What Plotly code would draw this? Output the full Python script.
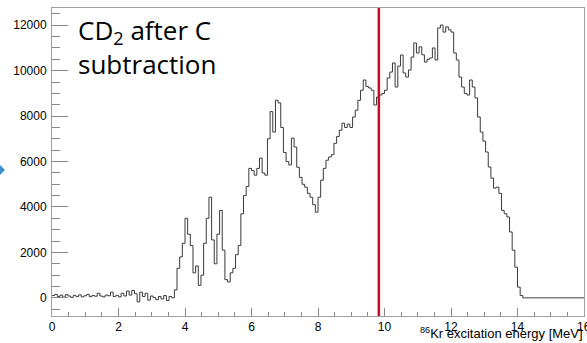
import plotly.graph_objects as go

# Histogram: 200 bins of 0.08 MeV from 0 to 16 MeV
bin_width = 0.08
counts = [
    100, 150, 60, 120, 30, 140, 80, 20, 110, 60,
    130, 40, 90, 150, 50, 100, 70, 200, 80, 40,
    120, 90, 250, 60, 110, 40, 200, 80, 300, 120,
    330, 180, -180, 250, 60, 200, -100, 80, 10, -80,
    60, -50, 100, -120, 60, 0, 350, 1300, 1800, 2400,
    3500, 2800, 2300, 1100, 1400, 550, 1000, 2400, 3500, 4430,
    2550, 1500, 2800, 3850, 2100, 800, 700, 1100, 1300, 1900,
    2300, 3700, 4500, 4900, 5700, 5600, 5400, 5700, 6150, 5500,
    5400, 7000, 8200, 7300, 8700, 8580, 7500, 6400, 6000, 5850,
    7030, 6640, 5750, 5300, 5000, 4870, 4600, 4430, 4100, 3770,
    4430, 5180, 5700, 6060, 6200, 6300, 6800, 7100, 7380, 7690,
    7500, 7650, 7500, 7960, 8260, 8700, 9140, 9590, 9300, 9240,
    9140, 8490, 8840, 8930, 9000, 9140, 9680, 9940, 10340, 9280,
    10200, 10690, 9900, 9720, 10030, 10600, 11220, 10780, 11050, 10700,
    10380, 10500, 10560, 11000, 10470, 11880, 12010, 11700, 11930, 11800,
    11700, 10780, 10470, 9720, 9280, 9000, 8930, 9590, 9280, 8800,
    7960, 7300, 6900, 6420, 5760, 5270, 4830, 4870, 4600, 3850,
    3700, 3560, 2900, 2100, 1350, 470, 100, 0, 0, 0,
    0, 0, 0, 0, 0, 0, 0, 0, 0, 0,
    0, 0, 0, 0, 0, 0, 0, 0, 0, 0,
]
x_range = [0, 16]
y_range = [-800, 12760]
x_tick_vals = [0, 2, 4, 6, 8, 10, 12, 14]
x_last_tick = 16
y_tick_vals = [0, 2000, 4000, 6000, 8000, 10000, 12000]
cut_energy = 9.83
label_text = "CD<sub>2</sub> after C<br>subtraction"
x_title = "<sup>86</sup>Kr excitation energy [MeV]"

edges = [i * bin_width for i in range(len(counts) + 1)]
ys = counts + [counts[-1]]

fig = go.Figure()
fig.add_trace(go.Scatter(
    x=edges, y=ys, mode="lines", line_shape="hv",
    line=dict(color="#3a3a3a", width=1), hoverinfo="skip", showlegend=False,
))

tick_font = dict(family="Liberation Sans, Arial", size=12, color="#000")
axis_common = dict(
    showline=True, linecolor="#a0a0a0", linewidth=1, mirror=True,
    showgrid=False, zeroline=False, ticks="inside", tickcolor="#8a8a8a",
    tickfont=tick_font, tickformat="d",
)
fig.update_xaxes(range=x_range, tickvals=x_tick_vals, ticklen=8, tickwidth=1,
                 minor=dict(dtick=0.5, ticks="inside", ticklen=4, tickcolor="#8a8a8a"),
                 **axis_common)
fig.update_yaxes(range=y_range, tickvals=y_tick_vals, ticklen=16, tickwidth=1,
                 ticklabelstandoff=2,
                 minor=dict(dtick=500, ticks="inside", ticklen=8, tickcolor="#8a8a8a"),
                 **axis_common)

# last x tick label (cut by the page edge in the original)
fig.add_annotation(text=str(x_last_tick), xref="x", yref="paper", x=x_last_tick,
                   y=-0.0065, xanchor="center", yanchor="top", showarrow=False,
                   font=tick_font)

fig.add_shape(type="line", x0=cut_energy, x1=cut_energy, xref="x", yref="paper",
              y0=0, y1=1, line=dict(color="#cc0a25", width=2.5))

# partial blue marker at the left edge
fig.add_shape(type="path", xref="paper", yref="paper",
              path="M -0.0977,0.490 L -0.0883,0.474 L -0.0977,0.458 Z",
              fillcolor="#3a8fc8", line=dict(width=0))

fig.add_annotation(text=label_text, xref="paper", yref="paper", x=0.046, y=0.995,
                   xanchor="left", yanchor="top", showarrow=False, align="left",
                   font=dict(family="Open Sans", size=26, color="#000"))
fig.add_annotation(text=x_title, xref="paper", yref="paper", x=1.0, y=-0.086,
                   xanchor="right", yanchor="bottom", showarrow=False,
                   borderpad=0,
                   font=dict(family="Liberation Sans, Arial", size=13, color="#000"))

fig.update_layout(width=587, height=343, margin=dict(l=52, r=3, t=8, b=27),
                  plot_bgcolor="white", paper_bgcolor="white")
fig.write_html("out.html")
